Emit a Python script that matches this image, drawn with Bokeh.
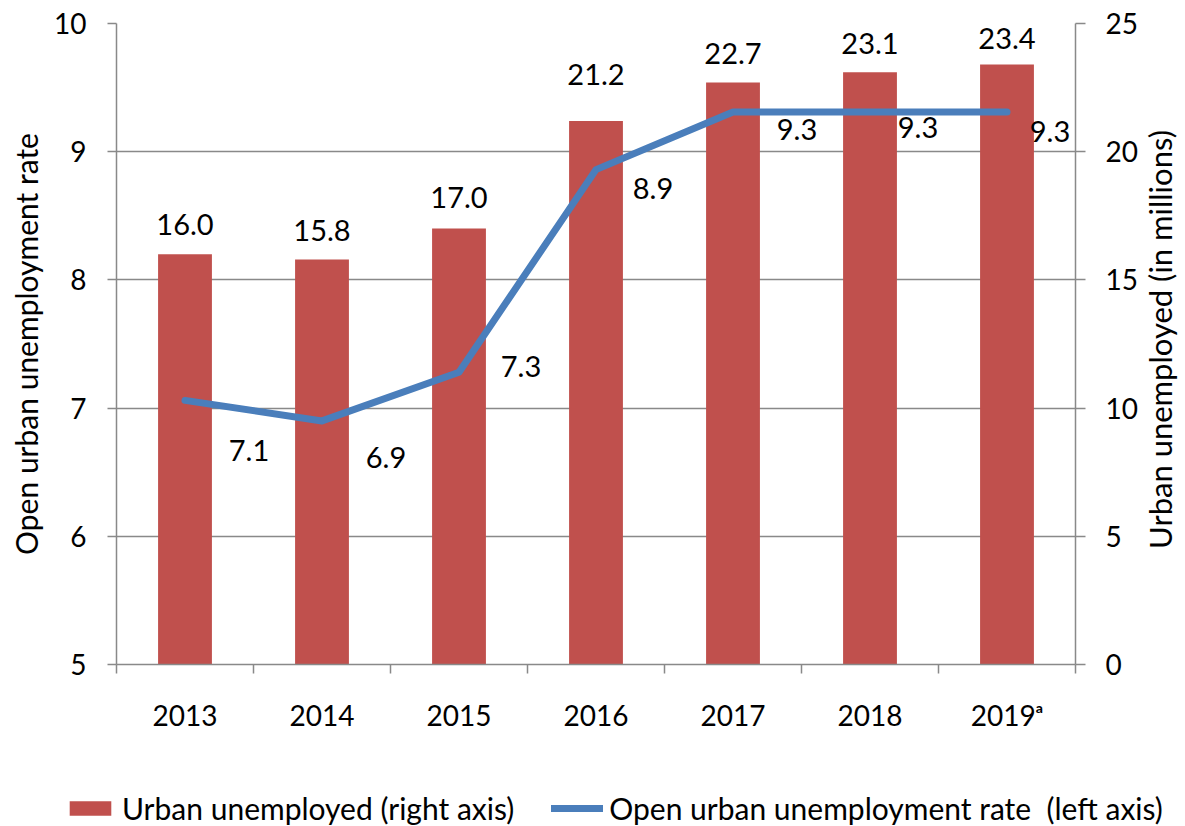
import math
from bokeh.plotting import figure
from bokeh.layouts import column, row
from bokeh.models import (Range1d, LinearAxis, FixedTicker, CustomJSTickFormatter,
                          Legend, LegendItem, ColumnDataSource, Label)
from bokeh.core.properties import value
from bokeh.embed import file_html
from bokeh.resources import INLINE

# ---- data ----
years = ["2013", "2014", "2015", "2016", "2017", "2018", "2019\u1d43"]
unemployed_millions = [16.0, 15.8, 17.0, 21.2, 22.7, 23.1, 23.4]
unemployment_rate = [7.06, 6.90, 7.28, 8.86, 9.31, 9.31, 9.31]
left_ticks = [5, 6, 7, 8, 9, 10]
right_ticks = [0, 5, 10, 15, 20, 25]
left_title = "Open urban unemployment rate"
right_title = "Urban unemployed (in millions)"
bar_legend = "Urban unemployed (right axis)"
line_legend = "Open urban unemployment rate  (left axis)"

# label placement (screen pixel offsets)
bar_label_dy = [-30, -29, -31, -46, -29, -29, -26]
rate_label_dx = [64, 64, 62, 57, 64, 48, 43]
rate_label_dy = [50, 37, -6, 19, 18, 16, 20]

FONT = "Lato"
FS = "28px"
GREY = "#898989"
RED = "#C0504D"
BLUE = "#4A7EBB"

xs = [i + 0.5 for i in range(len(years))]

src = ColumnDataSource(dict(
    x=xs, bars=unemployed_millions, rate=unemployment_rate,
    bar_lbl=[f"{v:.1f}" for v in unemployed_millions],
    rate_lbl=[f"{v:.1f}" for v in unemployment_rate],
    bdy=bar_label_dy, rdx=rate_label_dx, rdy=rate_label_dy,
))

# ---------------- main chart ----------------
p = figure(width=1140, height=760, x_range=Range1d(0, len(years)), y_range=Range1d(5, 10),
           output_backend="svg", toolbar_location=None,
           min_border_left=116, min_border_right=63, min_border_top=23, min_border_bottom=96)
p.extra_y_ranges = {"right": Range1d(0, 25)}
p.outline_line_color = None
p.background_fill_color = "white"
p.border_fill_color = "white"

p.xgrid.visible = False
p.ygrid.ticker = FixedTicker(ticks=left_ticks)
p.ygrid.grid_line_color = GREY
p.ygrid.grid_line_width = 1.5

xa = p.xaxis[0]
xa.ticker = FixedTicker(ticks=xs, minor_ticks=list(range(len(years) + 1)))
xa.formatter = CustomJSTickFormatter(args=dict(labels=years), code="return labels[Math.floor(tick)];")
xa.major_tick_out = 0
xa.major_tick_in = 0
xa.minor_tick_out = 9
xa.minor_tick_in = 0
xa.minor_tick_line_color = GREY
xa.minor_tick_line_width = 1.5
xa.axis_line_color = GREY
xa.axis_line_width = 1.5
xa.major_label_standoff = 24
xa.major_label_text_font = FONT
xa.major_label_text_font_size = FS
xa.major_label_text_color = "black"

ya = p.yaxis[0]
ya.ticker = FixedTicker(ticks=left_ticks)
ya.major_tick_out = 9
ya.major_tick_in = 0
ya.minor_tick_out = 0
ya.minor_tick_in = 0
ya.major_tick_line_color = GREY
ya.major_tick_line_width = 1.5
ya.axis_line_color = GREY
ya.axis_line_width = 1.5
ya.major_label_standoff = 21
ya.major_label_text_font = FONT
ya.major_label_text_font_size = FS
ya.major_label_text_color = "black"
ya.axis_label = left_title
ya.axis_label_text_font = FONT
ya.axis_label_text_font_size = "30px"
ya.axis_label_text_font_style = "normal"
ya.axis_label_text_color = "black"
ya.axis_label_standoff = 7

ra = LinearAxis(y_range_name="right", ticker=FixedTicker(ticks=right_ticks))
ra.major_tick_out = 10
ra.major_tick_in = 0
ra.minor_tick_out = 0
ra.minor_tick_in = 0
ra.major_tick_line_color = GREY
ra.major_tick_line_width = 1.5
ra.axis_line_color = GREY
ra.axis_line_width = 1.5
ra.major_label_standoff = 20
ra.major_label_text_font = FONT
ra.major_label_text_font_size = FS
ra.major_label_text_color = "black"
p.add_layout(ra, "right")

p.vbar(x="x", top="bars", bottom=0, width=0.393, source=src, y_range_name="right",
       fill_color=RED, line_color=None)
p.line(x="x", y="rate", source=src, line_color=BLUE, line_width=7,
       line_join="round", line_cap="round")

p.text(x="x", y="bars", text="bar_lbl", source=src, y_range_name="right", y_offset="bdy",
       text_align="center", text_baseline="middle", text_font=value(FONT),
       text_font_size="29px", text_color="black")
p.text(x="x", y="rate", text="rate_lbl", source=src, x_offset="rdx", y_offset="rdy",
       text_align="center", text_baseline="middle", text_font=value(FONT),
       text_font_size="29px", text_color="black")

# ---------------- right axis title (reads bottom to top) ----------------
rt = figure(width=45, height=760, output_backend="svg", toolbar_location=None,
            x_axis_location=None, y_axis_location=None, min_border=0,
            x_range=Range1d(0, 1), y_range=Range1d(0, 1))
rt.outline_line_color = None
rt.grid.visible = False
rt.add_layout(Label(x=19, y=325, x_units="screen", y_units="screen", text=right_title,
                    angle=math.pi / 2, text_align="center", text_baseline="middle",
                    text_font=FONT, text_font_size="31px", text_color="black"))

# ---------------- legend strip ----------------
# legend swatches come from renderers of the same data, kept outside the strip's view
lf = figure(width=1185, height=66, output_backend="svg", toolbar_location=None,
            x_axis_location=None, y_axis_location=None, min_border=0,
            x_range=Range1d(-20, -19), y_range=Range1d(0, 1))
lf.outline_line_color = None
lf.grid.visible = False
leg_bar = lf.vbar(x="x", top="bars", bottom=0, width=0.4, source=src,
                  fill_color=RED, line_color=None)
leg_line = lf.line(x="x", y="rate", source=src, line_color=BLUE, line_width=7, line_cap="round")
legend = Legend(items=[
    LegendItem(label=bar_legend, renderers=[leg_bar]),
    LegendItem(label=line_legend, renderers=[leg_line]),
], orientation="horizontal", location=(64, 0), glyph_width=52, glyph_height=18,
    label_standoff=6, spacing=37, padding=0, margin=0, border_line_color=None,
    background_fill_alpha=0, label_text_font=FONT, label_text_font_size="30px",
    label_text_color="black")
lf.add_layout(legend, "center")

layout = column(row(p, rt), lf)
open("out.html", "w").write(file_html(layout, INLINE))
